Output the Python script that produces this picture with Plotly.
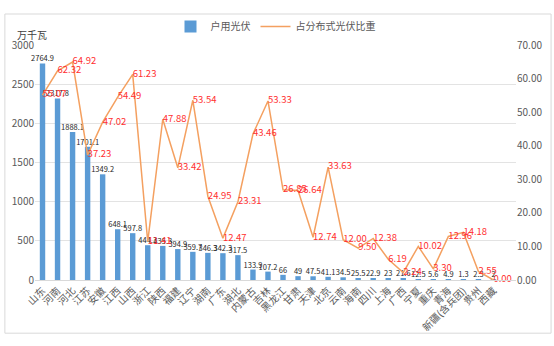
import plotly.graph_objects as go

provinces = ["山东", "河南", "河北", "江苏", "安徽", "江西", "山西", "浙江", "陕西", "福建",
             "辽宁", "湖南", "广东", "湖北", "内蒙古", "吉林", "黑龙江", "甘肃", "天津", "北京",
             "云南", "海南", "四川", "上海", "广西", "宁夏", "重庆", "青海", "新疆(含兵团)", "贵州", "西藏"]

household_pv = [2764.9, 2317.8, 1888.1, 1701.1, 1349.2, 648.1, 597.8, 444.3, 435.3, 394.9,
                359.7, 346.3, 342.3, 317.5, 133.9, 107.2, 66, 49, 47.5, 41.1,
                34.5, 25.5, 22.9, 23, 21.6, 12.5, 5.6, 4.9, 1.3, 2.3, 2]

share_pct = [55.07, 62.32, 64.92, 37.23, 47.02, 54.49, 61.23, 11.41, 47.88, 33.42,
             53.54, 24.95, 12.47, 23.31, 43.46, 53.33, 26.85, 26.64, 12.74, 33.63,
             12.00, 9.50, 12.38, 6.19, 2.24, 10.02, 3.30, 12.96, 14.18, 2.55, 0.00]

left_ticks = [0, 500, 1000, 1500, 2000, 2500, 3000]
right_ticks = [0, 10, 20, 30, 40, 50, 60, 70]

FONT = "Noto Sans CJK SC"
L, R, T, B = 31, 518, 34, 288
W, H = R - L, B - T

fig = go.Figure()
fig.add_trace(go.Bar(
    x=provinces, y=household_pv, name="户用光伏",
    marker=dict(color="#5b9bd5", line=dict(width=0)),
    width=0.36,
    text=[f"{v:g}" for v in household_pv],
    textposition="outside", constraintext="none", cliponaxis=False,
    textfont=dict(family=FONT, size=7.5, color="#262626"),
    yaxis="y",
))
fig.add_trace(go.Scatter(
    x=provinces, y=share_pct, name="占分布式光伏比重",
    mode="lines+text",
    line=dict(color="#f4a060", width=1.5),
    text=[f"{v:.2f}" for v in share_pct],
    textposition="middle right",
    textfont=dict(family=FONT, size=9.5, color="#ff3030"),
    cliponaxis=False,
    yaxis="y2",
))

fig.update_layout(
    width=554, height=346,
    margin=dict(l=L, r=554 - R, t=T, b=346 - B),
    paper_bgcolor="white", plot_bgcolor="white",
    font=dict(family=FONT, size=10, color="#595959"),
    bargap=0.6,
    showlegend=True,
    legend=dict(orientation="h", x=0.5, xanchor="center", y=(B - 14) / H, yanchor="middle",
                font=dict(family=FONT, size=10, color="#595959"),
                itemwidth=30, bgcolor="rgba(0,0,0,0)"),
    xaxis=dict(
        type="category", categoryorder="array", categoryarray=provinces,
        range=[-0.5, len(provinces) + 0.5],
        tickangle=-45, showgrid=False, ticks="",
        showline=True, linecolor="#d9d9d9", linewidth=1,
        tickfont=dict(family=FONT, size=10, color="#595959"),
    ),
    yaxis=dict(
        range=[0, 3000], tickvals=left_ticks, ticktext=[str(v) for v in left_ticks],
        showgrid=True, gridcolor="#e3e3e3", gridwidth=1, zeroline=False,
        ticks="", tickfont=dict(family=FONT, size=10, color="#595959"),
    ),
    yaxis2=dict(
        range=[0, 70], tickvals=right_ticks, ticktext=[f"{v:.2f}" for v in right_ticks],
        overlaying="y", side="right", showgrid=False, zeroline=False, ticks="",
        tickfont=dict(family=FONT, size=10, color="#595959"),
    ),
    annotations=[dict(
        text="万千瓦", xref="paper", yref="paper",
        x=(28 - L) / W, y=(B - 23) / H, xanchor="center", yanchor="middle",
        showarrow=False, font=dict(family=FONT, size=10, color="#404040"),
    )],
    shapes=[dict(
        type="rect", xref="paper", yref="paper",
        x0=(0.5 - L) / W, x1=(553.5 - L) / W, y0=(B - 345.5) / H, y1=(B - 0.5) / H,
        line=dict(color="#d9d9d9", width=1), fillcolor="rgba(0,0,0,0)", layer="below",
    )],
)

fig.write_html("out.html")
